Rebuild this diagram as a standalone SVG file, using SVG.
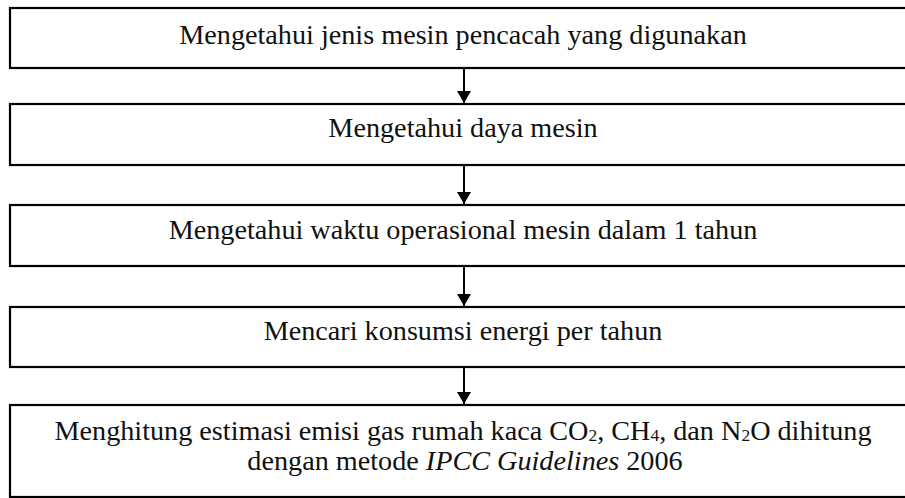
<svg xmlns="http://www.w3.org/2000/svg" width="905" height="498" viewBox="0 0 905 498">
  <style>
    .box { fill: #ffffff; stroke: #000000; stroke-width: 2.2; }
    .lbl { font-family: "Liberation Serif", "Times New Roman", serif; font-size: 28.2px; fill: #111111; text-anchor: middle; }
    .sub { font-size: 17.5px; }
    .link { stroke: #000000; stroke-width: 2; fill: none; }
  </style>
  <defs>
    <marker id="arrow" viewBox="0 0 12 14" refX="12" refY="7" markerWidth="12" markerHeight="14" markerUnits="userSpaceOnUse" orient="auto">
      <path d="M0,0 L12,7 L0,14 Z" fill="#000000"/>
    </marker>
  </defs>
  <rect width="905" height="498" fill="#ffffff"/>

  <g id="connectors">
    <line class="link" x1="464" y1="68" x2="464" y2="103" marker-end="url(#arrow)"/>
    <line class="link" x1="464" y1="165" x2="464" y2="204" marker-end="url(#arrow)"/>
    <line class="link" x1="464" y1="266" x2="464" y2="306" marker-end="url(#arrow)"/>
    <line class="link" x1="464" y1="367" x2="464" y2="404" marker-end="url(#arrow)"/>
  </g>

  <g id="step1">
    <rect class="box" x="10" y="8" width="910" height="60"/>
    <text class="lbl" x="463" y="44">Mengetahui jenis mesin pencacah yang digunakan</text>
  </g>

  <g id="step2">
    <rect class="box" x="10" y="104" width="910" height="61"/>
    <text class="lbl" x="463" y="137">Mengetahui daya mesin</text>
  </g>

  <g id="step3">
    <rect class="box" x="10" y="205" width="910" height="61"/>
    <text class="lbl" x="463" y="239">Mengetahui waktu operasional mesin dalam 1 tahun</text>
  </g>

  <g id="step4">
    <rect class="box" x="10" y="307" width="910" height="60"/>
    <text class="lbl" x="463" y="340">Mencari konsumsi energi per tahun</text>
  </g>

  <g id="step5">
    <rect class="box" x="10" y="405" width="910" height="92"/>
    <text class="lbl" x="463" y="440">Menghitung estimasi emisi gas rumah kaca CO<tspan class="sub" dy="1">2</tspan><tspan dy="-1">, CH</tspan><tspan class="sub" dy="1">4</tspan><tspan dy="-1">, dan N</tspan><tspan class="sub" dy="1">2</tspan><tspan dy="-1">O dihitung</tspan></text>
    <text class="lbl" x="465" y="470">dengan metode <tspan font-style="italic">IPCC Guidelines</tspan> 2006</text>
  </g>
</svg>
